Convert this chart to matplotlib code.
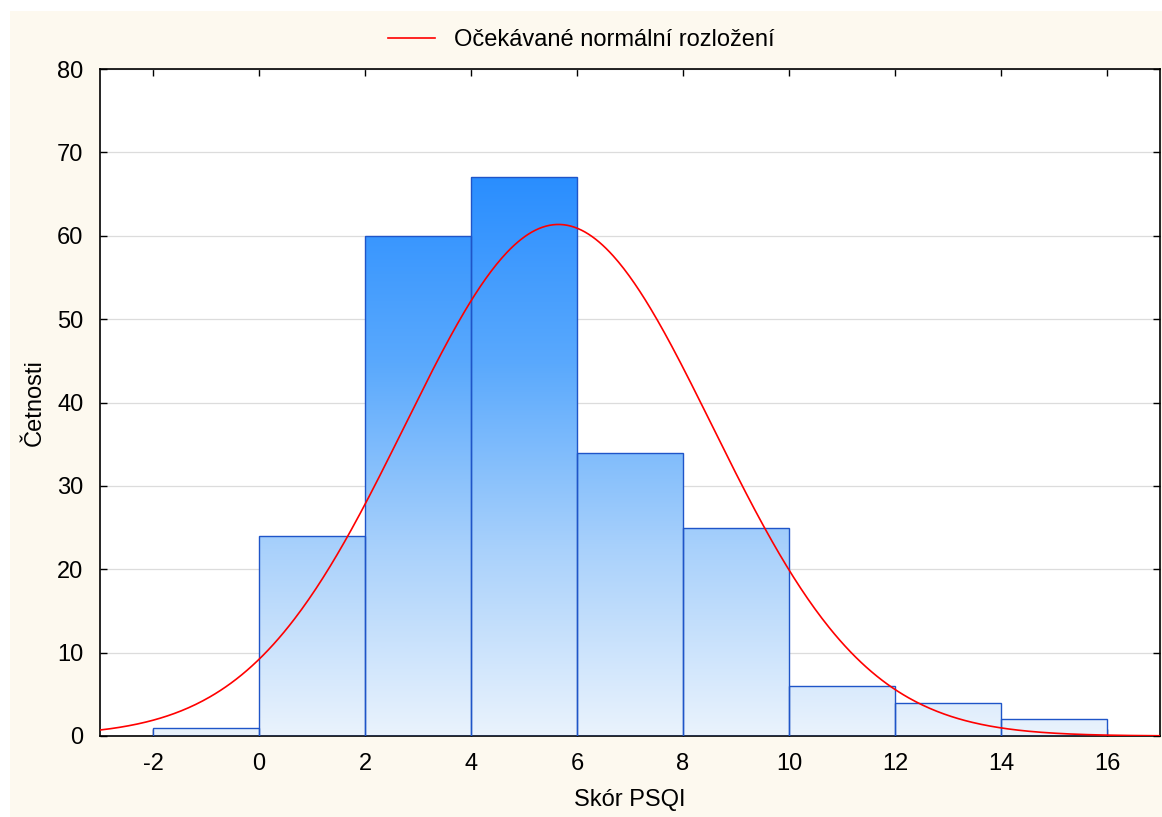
import numpy as np
import matplotlib.pyplot as plt
from matplotlib.colors import LinearSegmentedColormap
from matplotlib.patches import Rectangle

plt.rcParams['font.family'] = ['Liberation Sans', 'DejaVu Sans']
plt.rcParams['axes.unicode_minus'] = False

# PSQI score histogram (bin width 2)
bin_edges = [-2, 0, 2, 4, 6, 8, 10, 12, 14, 16]
counts = [1, 24, 60, 67, 34, 25, 6, 4, 2]
# parameters of the expected normal curve
mu = 5.65
sigma = 2.90

n_total = sum(counts)
bin_w = bin_edges[1] - bin_edges[0]

fig = plt.figure(figsize=(11.62, 8.17), dpi=100)
fig.patch.set_facecolor('white')
fig.patches.append(Rectangle((10 / 1162, 0), 1, 1 - 11 / 817, transform=fig.transFigure,
                             facecolor='#fdf9ef', edgecolor='none', zorder=-10))

ax = fig.add_axes([100 / 1162, 81 / 817, 1060 / 1162, 667 / 817])
ax.set_facecolor('white')
ax.set_xlim(-3, 17)
ax.set_ylim(0, 80)

ax.yaxis.grid(True, color='#dcdcdc', lw=0.9)
ax.set_axisbelow(True)

# vertical gradient, applied to each bar by clipping
cmap = LinearSegmentedColormap.from_list('bars', ['#eaf3fd', '#a9d1fb', '#5aa9fd', '#2a8eff'])
grad = np.linspace(0, 1, 256).reshape(-1, 1)
for left, h in zip(bin_edges[:-1], counts):
    rect = Rectangle((left, 0), bin_w, h, facecolor='none', edgecolor='#1f55c8', lw=1.0, zorder=3)
    ax.add_patch(rect)
    im = ax.imshow(grad, cmap=cmap, origin='lower', aspect='auto',
                   extent=(-3, 17, 0, max(counts)), zorder=2, interpolation='bicubic')
    im.set_clip_path(rect)

xs = np.linspace(-3, 17, 600)
ys = n_total * bin_w / (sigma * np.sqrt(2 * np.pi)) * np.exp(-0.5 * ((xs - mu) / sigma) ** 2)
ax.plot(xs, ys, color='red', lw=1.2, zorder=4, label='Očekávané normální rozložení')

ax.set_xticks(range(-2, 17, 2))
ax.set_yticks(range(0, 81, 10))
ax.tick_params(direction='in', length=5, width=1, labelsize=17, pad=12,
               top=True, right=True)
for s in ax.spines.values():
    s.set_linewidth(1.2)

ax.set_xlabel('Skór PSQI', fontsize=17, labelpad=10)
ax.set_ylabel('Četnosti', fontsize=17, labelpad=8)

fig.legend(loc='center', bbox_to_anchor=(0.5, 1 - 40 / 817), frameon=False,
           fontsize=17, handlelength=2.0)

fig.savefig('out.png', dpi=100)
